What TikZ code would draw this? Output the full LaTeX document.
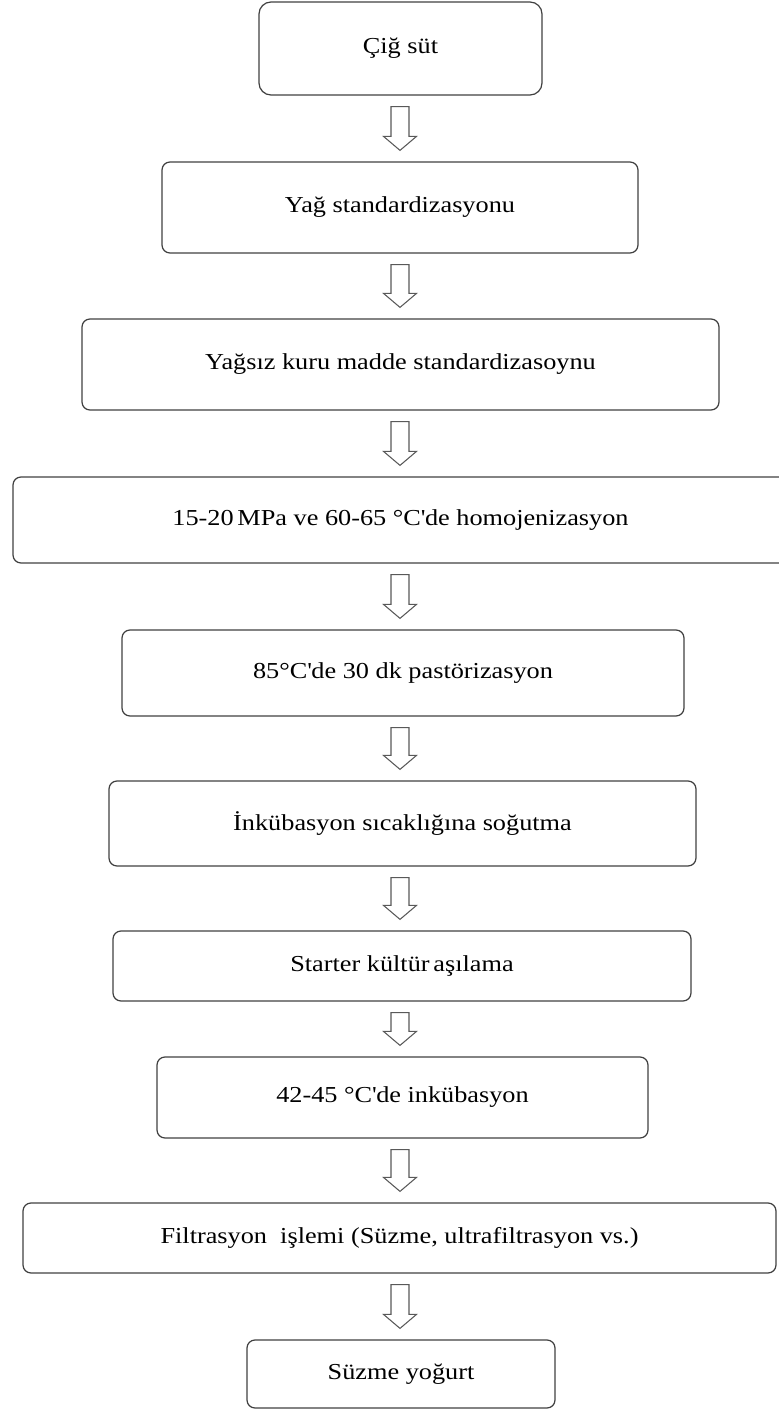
\documentclass[tikz,border=0pt]{standalone}
\usepackage{fontspec}
\setmainfont[FakeStretch=1.15]{Liberation Serif}
\usepackage{tikz}
\usetikzlibrary{shapes,arrows,calc}

\begin{document}
\begin{tikzpicture}[
    stepbox/.style={draw=black!75, line width=0.7pt, rounded corners=0.16cm,
        inner sep=0pt, font=\fontsize{13}{15}\selectfont},
    flowarrow/.style={draw=black!65, line width=0.6pt, fill=white}
  ]
    % Page frame
    \useasboundingbox (0,0) rectangle (15.56,-28.18);

    % Process steps, top to bottom
    \node[stepbox, rounded corners=0.24cm, minimum width=5.66cm, minimum height=1.86cm] (cig) at (8.01,-0.97) {Çiğ süt};
    \node[stepbox, minimum width=9.52cm, minimum height=1.82cm] (yag) at (8.00,-4.15) {Yağ standardizasyonu};
    \node[stepbox, minimum width=12.74cm, minimum height=1.82cm] (ykm) at (8.01,-7.29) {Yağsız kuru madde standardizasoynu};
    \node[stepbox, minimum width=15.50cm, minimum height=1.72cm] (homo) at (8.01,-10.40) {15-20\,MPa ve 60-65 °C\textquotesingle de homojenizasyon};
    \node[stepbox, minimum width=11.24cm, minimum height=1.72cm] (past) at (8.06,-13.46) {85°C\textquotesingle de 30 dk pastörizasyon};
    \node[stepbox, minimum width=11.74cm, minimum height=1.70cm] (sogut) at (8.05,-16.47) {İnkübasyon sıcaklığına soğutma};
    \node[stepbox, minimum width=11.56cm, minimum height=1.40cm] (asi) at (8.04,-19.32) {Starter kültür\,aşılama};
    \node[stepbox, minimum width=9.82cm, minimum height=1.62cm] (inkub) at (8.05,-21.95) {42-45 °C\textquotesingle de inkübasyon};
    \node[stepbox, minimum width=15.06cm, minimum height=1.40cm] (filt) at (7.99,-24.76) {Filtrasyon~ işlemi (Süzme, ultrafiltrasyon vs.)};
    \node[stepbox, minimum width=6.16cm, minimum height=1.36cm] (suzme) at (8.02,-27.48) {Süzme yoğurt};

    % Hollow block arrows between the steps
    \foreach \a/\b in {cig/yag, yag/ykm, ykm/homo, homo/past, past/sogut,
                       sogut/asi, asi/inkub, inkub/filt, filt/suzme} {
        \draw[flowarrow] let \p1 = (\a.south), \p2 = (\b.north) in
            (-0.18cm+8cm, \y1-0.22cm) -- (0.18cm+8cm, \y1-0.22cm)
            -- (0.18cm+8cm, \y2+0.50cm) -- (0.33cm+8cm, \y2+0.50cm)
            -- (8cm, \y2+0.22cm)
            -- (-0.33cm+8cm, \y2+0.50cm) -- (-0.18cm+8cm, \y2+0.50cm) -- cycle;
    }
\end{tikzpicture}
\end{document}
